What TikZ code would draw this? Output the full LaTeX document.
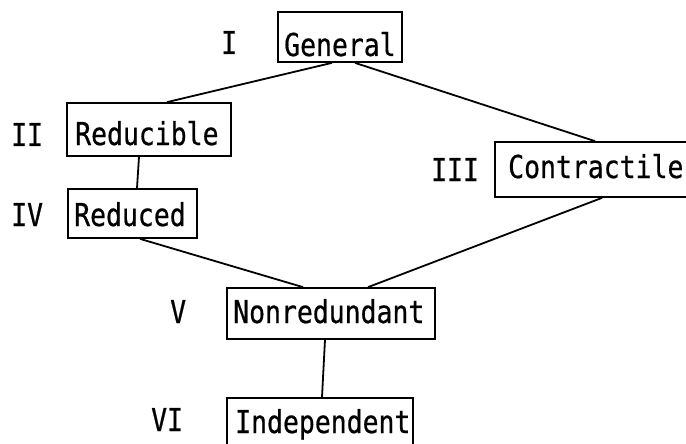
\documentclass[tikz,border=0pt]{standalone}
\usepackage{fontspec}
\newfontfamily\tw[FakeStretch=0.84,FakeBold=0.6]{DejaVu Sans Mono}
\begin{document}
\begin{tikzpicture}[x=1pt,y=-1pt,
  boxnode/.style={draw=black, line width=1.7pt, inner sep=0pt, rectangle},
  txt/.style={anchor=base west, inner sep=0pt, font=\tw\fontsize{31.5}{32}\selectfont},
  conn/.style={line width=1.8pt, black}]
\useasboundingbox (0,0) rectangle (686,444);
\clip (0,0) rectangle (686,444);
% boxes
\node[boxnode, minimum width=124pt, minimum height=50pt] (gen) at (340,37) {};
\node[boxnode, minimum width=164pt, minimum height=53pt] (rdb) at (149,129.5) {};
\node[boxnode, minimum width=129pt, minimum height=49pt] (rdd) at (132.5,213.5) {};
\node[boxnode, minimum width=206pt, minimum height=55pt] (con) at (598,169.5) {};
\node[boxnode, minimum width=208pt, minimum height=51pt] (nr) at (331,313.5) {};
\node[boxnode, minimum width=186pt, minimum height=57pt] (ind) at (320,426.5) {};
% texts
\node[txt] (genT) at (284,56) {General};
\node[txt] (rdbT) at (75,145) {Reducible};
\node[txt] (rddT) at (74,226) {Reduced};
\node[txt] (conT) at (508,178) {Contractile};
\node[txt] (nrT) at (233,323) {Nonredundant};
\node[txt] (indT) at (235,433) {Independent};
% labels
\node[txt] (l1) at (221,54) {I};
\node[txt] (l2) at (11,146) {II};
\node[txt] (l3) at (431,181) {III};
\node[txt] (l4) at (11,226) {IV};
\node[txt] (l5) at (170,323) {V};
\node[txt] (l6) at (151,431) {VI};
% connectors
\draw[conn] ([xshift=-8pt]gen.south) -- ([xshift=18pt]rdb.north);
\draw[conn] ([xshift=15pt]gen.south) -- ([xshift=-3pt]con.north);
\draw[conn] ([xshift=-10pt]rdb.south) -- ([xshift=4.5pt]rdd.north);
\draw[conn] ([xshift=7.5pt]rdd.south) -- ([xshift=-28pt]nr.north);
\draw[conn] ([xshift=4pt]con.south) -- ([xshift=37pt]nr.north);
\draw[conn] ([xshift=-6pt]nr.south) -- ([xshift=2pt]ind.north);
\end{tikzpicture}
\end{document}
